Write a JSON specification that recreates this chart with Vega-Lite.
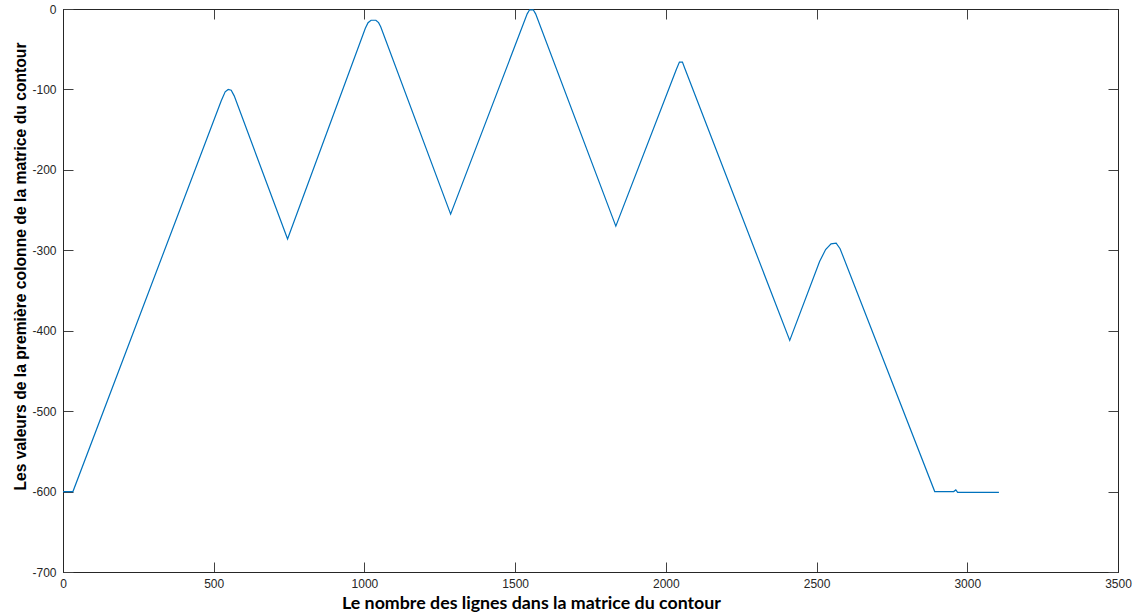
{
  "$schema": "https://vega.github.io/schema/vega-lite/v6.json",
  "autosize": {"type": "none"},
  "padding": {"left": 63, "top": 9, "right": 20, "bottom": 43},
  "width": 1055,
  "height": 563,
  "background": "white",
  "config": {
    "view": {"stroke": "#262626", "strokeWidth": 1},
    "axis": {
      "labelFont": "Liberation Sans",
      "labelFontSize": 12,
      "labelColor": "#262626",
      "labelFlush": false,
      "domainColor": "#262626",
      "tickColor": "#404040",
      "tickSize": -10,
      "grid": false,
      "titleFontWeight": "bold",
      "titleColor": "#000000"
    }
  },
  "data": {
    "values": [
      {"n": 0, "v": -600},
      {"n": 33, "v": -600},
      {"n": 525, "v": -114},
      {"n": 538, "v": -103},
      {"n": 548, "v": -100},
      {"n": 558, "v": -101},
      {"n": 568, "v": -108},
      {"n": 745, "v": -286},
      {"n": 1003, "v": -24},
      {"n": 1012, "v": -17},
      {"n": 1022, "v": -14},
      {"n": 1038, "v": -14},
      {"n": 1047, "v": -17},
      {"n": 1054, "v": -22},
      {"n": 1286, "v": -255},
      {"n": 1540, "v": -6},
      {"n": 1548, "v": -1},
      {"n": 1560, "v": -1},
      {"n": 1568, "v": -6},
      {"n": 1834, "v": -270},
      {"n": 2035, "v": -75},
      {"n": 2045, "v": -66},
      {"n": 2055, "v": -66},
      {"n": 2063, "v": -74},
      {"n": 2411, "v": -412},
      {"n": 2510, "v": -314},
      {"n": 2530, "v": -299},
      {"n": 2548, "v": -292},
      {"n": 2565, "v": -291},
      {"n": 2578, "v": -298},
      {"n": 2892, "v": -600},
      {"n": 2955, "v": -600},
      {"n": 2962, "v": -598},
      {"n": 2968, "v": -601},
      {"n": 3105, "v": -601}
    ]
  },
  "layer": [
    {
      "mark": {"type": "line", "color": "#0072BD", "strokeWidth": 1.2},
      "encoding": {
        "x": {
          "field": "n", "type": "quantitative",
          "scale": {"domain": [0, 3500], "nice": false, "zero": false},
          "axis": {
            "values": [0, 500, 1000, 1500, 2000, 2500, 3000, 3500],
            "labelExpr": "'' + datum.value",
            "labelPadding": 16,
            "title": "Le nombre des lignes dans la matrice du contour",
            "titleFont": "Lato", "titleFontSize": 17.8,
            "titleX": 468, "titleY": 31, "titleBaseline": "middle", "titleAlign": "center"
          }
        },
        "y": {
          "field": "v", "type": "quantitative",
          "scale": {"domain": [-700, 0], "nice": false, "zero": false},
          "axis": {
            "values": [-700, -600, -500, -400, -300, -200, -100, 0],
            "labelExpr": "'' + datum.value",
            "labelPadding": 17,
            "title": "Les valeurs de la première colonne de la matrice du contour",
            "titleFont": "Liberation Sans", "titleFontSize": 15.7,
            "titleX": -43, "titleY": 257, "titleAngle": -90, "titleBaseline": "middle", "titleAlign": "center"
          }
        }
      }
    },
    {
      "mark": {"type": "line", "opacity": 0},
      "encoding": {
        "x": {
          "field": "n", "type": "quantitative",
          "scale": {"domain": [0, 3500], "nice": false, "zero": false},
          "axis": {"orient": "top", "values": [0, 500, 1000, 1500, 2000, 2500, 3000, 3500], "labels": false, "title": null}
        },
        "y": {
          "field": "v", "type": "quantitative",
          "scale": {"domain": [-700, 0], "nice": false, "zero": false},
          "axis": {"orient": "right", "values": [-700, -600, -500, -400, -300, -200, -100, 0], "labels": false, "title": null}
        }
      }
    }
  ],
  "resolve": {"scale": {"x": "independent", "y": "independent"}}
}
